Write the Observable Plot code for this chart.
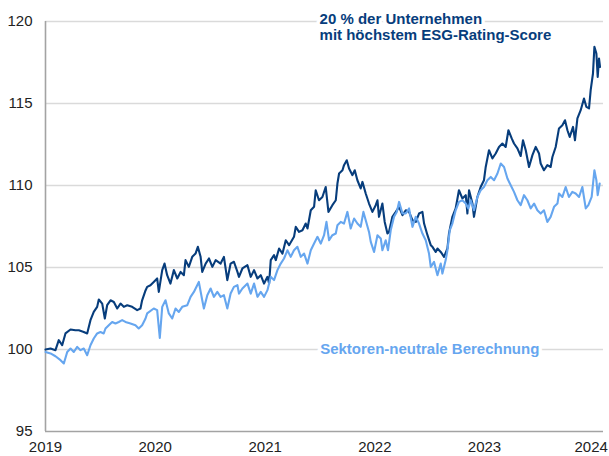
<!DOCTYPE html>
<html>
<head>
<meta charset="utf-8">
<script src="https://cdn.jsdelivr.net/npm/d3@7"></script>
<script src="https://cdn.jsdelivr.net/npm/@observablehq/plot@0.6"></script>
<style>
  html, body { margin: 0; padding: 0; background: #fff; }
  #chart svg { display: block; }
</style>
</head>
<body>
<div id="chart"></div>
<script>
// ---- Data (decimal years, index values) ----
const darkT = [2019.000,2019.046,2019.091,2019.121,2019.152,2019.182,2019.228,2019.273,2019.304,2019.349,2019.380,2019.410,2019.440,2019.471,2019.486,2019.517,2019.541,2019.562,2019.593,2019.623,2019.654,2019.684,2019.714,2019.745,2019.790,2019.836,2019.866,2019.881,2019.912,2019.927,2019.957,2019.987,2020.018,2020.033,2020.064,2020.085,2020.109,2020.139,2020.170,2020.201,2020.231,2020.261,2020.276,2020.306,2020.337,2020.367,2020.388,2020.413,2020.428,2020.459,2020.489,2020.520,2020.550,2020.595,2020.625,2020.656,2020.686,2020.716,2020.748,2020.762,2020.793,2020.839,2020.869,2020.899,2020.930,2020.960,2020.990,2021.021,2021.036,2021.051,2021.081,2021.097,2021.127,2021.158,2021.188,2021.218,2021.263,2021.279,2021.309,2021.340,2021.370,2021.386,2021.416,2021.446,2021.461,2021.491,2021.522,2021.552,2021.577,2021.613,2021.644,2021.659,2021.674,2021.705,2021.719,2021.744,2021.765,2021.796,2021.817,2021.841,2021.871,2021.887,2021.917,2021.947,2021.978,2022.008,2022.024,2022.038,2022.069,2022.090,2022.115,2022.129,2022.160,2022.191,2022.221,2022.252,2022.282,2022.312,2022.343,2022.373,2022.403,2022.434,2022.449,2022.480,2022.510,2022.525,2022.555,2022.571,2022.601,2022.631,2022.662,2022.676,2022.707,2022.737,2022.767,2022.798,2022.829,2022.844,2022.859,2022.890,2022.904,2022.935,2022.965,2022.995,2023.011,2023.041,2023.072,2023.102,2023.132,2023.163,2023.193,2023.218,2023.248,2023.269,2023.300,2023.330,2023.351,2023.376,2023.406,2023.437,2023.467,2023.497,2023.512,2023.542,2023.573,2023.603,2023.619,2023.649,2023.679,2023.710,2023.734,2023.756,2023.777,2023.807,2023.825,2023.847,2023.877,2023.907,2023.929,2023.953,2023.968,2023.989,2024.002,2024.020,2024.032,2024.044,2024.053];
const darkV = [100.00,100.06,99.96,100.57,100.26,100.98,101.22,101.17,101.17,101.07,100.98,101.79,102.29,102.60,103.05,102.80,101.89,102.70,103.00,102.90,102.50,102.80,102.60,102.70,102.60,102.40,102.50,103.00,103.60,103.82,103.92,104.12,104.33,103.51,104.84,105.24,104.53,104.02,104.84,104.33,104.73,104.53,105.45,105.04,105.65,105.85,106.26,105.65,104.73,105.24,105.55,105.04,105.45,105.24,105.65,104.23,105.24,105.35,104.73,104.43,104.94,105.14,104.43,104.84,104.33,104.53,104.02,104.43,104.02,105.45,105.75,105.45,106.16,105.85,106.66,106.36,106.87,107.48,107.17,107.27,107.68,107.38,108.49,108.70,109.71,109.10,109.30,109.91,108.39,108.80,109.10,110.12,110.73,110.93,111.24,111.54,111.04,110.63,110.93,110.32,109.82,110.22,109.51,108.90,108.39,108.80,109.10,108.09,108.90,107.78,107.07,107.17,108.09,108.39,108.70,108.19,108.49,108.39,107.88,107.78,108.29,108.39,107.68,106.97,106.36,106.26,105.95,106.16,105.95,105.65,106.16,107.07,108.09,108.60,109.71,109.21,109.41,108.29,109.71,108.90,108.09,109.30,109.91,110.32,111.13,112.15,111.65,111.95,112.35,112.56,112.35,113.37,112.87,112.56,112.26,111.80,112.76,112.15,111.13,111.85,112.35,111.95,111.34,110.93,111.24,111.13,111.74,112.35,113.48,113.68,113.98,113.37,112.96,113.57,112.76,114.09,114.59,115.30,114.79,114.70,115.81,116.83,118.45,118.05,116.62,117.74,117.23];

const lightT = [2019.000,2019.046,2019.091,2019.137,2019.167,2019.198,2019.228,2019.258,2019.289,2019.319,2019.349,2019.380,2019.410,2019.440,2019.471,2019.501,2019.531,2019.547,2019.577,2019.608,2019.638,2019.668,2019.699,2019.729,2019.775,2019.820,2019.850,2019.881,2019.912,2019.927,2019.987,2020.018,2020.042,2020.064,2020.094,2020.124,2020.155,2020.185,2020.215,2020.246,2020.292,2020.322,2020.352,2020.397,2020.428,2020.443,2020.474,2020.504,2020.534,2020.565,2020.595,2020.625,2020.656,2020.686,2020.716,2020.748,2020.762,2020.793,2020.839,2020.869,2020.899,2020.930,2020.960,2020.990,2021.021,2021.051,2021.081,2021.112,2021.142,2021.172,2021.203,2021.233,2021.263,2021.294,2021.325,2021.355,2021.386,2021.416,2021.446,2021.477,2021.507,2021.537,2021.559,2021.583,2021.613,2021.644,2021.659,2021.689,2021.719,2021.750,2021.780,2021.811,2021.841,2021.871,2021.896,2021.917,2021.947,2021.963,2021.993,2022.024,2022.054,2022.069,2022.099,2022.120,2022.145,2022.175,2022.200,2022.221,2022.252,2022.282,2022.312,2022.343,2022.373,2022.403,2022.434,2022.464,2022.494,2022.510,2022.540,2022.571,2022.601,2022.616,2022.646,2022.662,2022.683,2022.707,2022.737,2022.767,2022.798,2022.829,2022.853,2022.874,2022.904,2022.935,2022.965,2022.995,2023.026,2023.057,2023.087,2023.118,2023.148,2023.178,2023.209,2023.239,2023.269,2023.300,2023.330,2023.360,2023.391,2023.421,2023.452,2023.482,2023.512,2023.542,2023.573,2023.603,2023.634,2023.665,2023.679,2023.710,2023.740,2023.770,2023.801,2023.831,2023.862,2023.892,2023.923,2023.947,2023.977,2024.002,2024.020,2024.032,2024.050];
const lightV = [99.85,99.76,99.59,99.35,99.15,99.85,100.06,99.85,100.16,99.96,100.06,99.65,100.26,100.67,100.98,101.07,100.98,101.28,101.48,101.68,101.59,101.68,101.79,101.68,101.59,101.48,101.28,101.48,101.89,102.20,102.50,102.40,100.70,102.60,103.00,102.20,101.89,102.50,102.29,102.60,102.70,103.21,103.51,104.12,103.00,102.50,103.31,103.72,103.21,103.51,103.21,103.31,102.50,103.41,103.82,103.92,103.41,103.72,104.02,103.41,104.02,103.21,103.51,103.21,103.62,104.43,104.23,104.84,105.24,105.55,106.05,105.65,106.05,106.26,105.65,105.85,105.24,106.05,106.46,106.87,106.46,106.97,107.78,106.66,106.97,107.07,107.58,107.78,107.68,108.39,107.38,107.99,107.68,107.48,108.39,107.88,107.17,106.56,105.95,106.97,106.77,106.05,106.66,106.05,107.27,108.09,108.39,109.00,108.29,108.29,108.60,107.48,108.09,107.68,107.07,106.66,105.85,105.04,105.34,104.53,105.24,104.63,105.45,106.05,107.27,107.68,108.49,109.00,109.10,108.90,108.60,109.10,108.49,109.30,109.71,109.91,110.32,110.52,110.32,110.73,111.34,111.13,110.43,110.02,109.61,109.10,108.80,109.41,109.10,108.60,108.90,108.49,108.29,108.49,107.78,108.09,108.70,108.90,109.51,109.30,109.91,109.30,109.61,109.51,109.30,109.91,108.60,108.80,109.30,110.93,110.32,109.41,110.12];

const yTicks = [95, 100, 105, 110, 115, 120];
const gridValues = [100, 105, 110, 115, 120];
const yearTicks = [2019, 2020, 2021, 2022, 2023];
const lastYearTick = [2024];
const xDomain = ["2019-01-01", "2024-02-01"];
const yDomain = [95, 120];

const titleText = "20 % der Unternehmen\nmit höchstem ESG-Rating-Score";
const titleAt = {date: "2021-07-01", value: 120.57};
const labelText = "Sektoren-neutrale Berechnung";
const labelAt = {date: "2021-07-03", value: 100.04};

// ---- Build ----
function toDate(t) {
  const y = Math.floor(t);
  const s = Date.UTC(y, 0, 1), e = Date.UTC(y + 1, 0, 1);
  return new Date(s + (t - y) * (e - s));
}
const yearDate = y => new Date(Date.UTC(y, 0, 1));
const dark = darkT.map((t, i) => ({date: toDate(t), value: darkV[i]}));
const light = lightT.map((t, i) => ({date: toDate(t), value: lightV[i]}));
const darkColor = "#073d7c";
const lightColor = "#66a6ef";
const xd = xDomain.map(d => new Date(d));
const axisStyle = {tickSize: 0, tickPadding: 10, fontSize: 15, fill: "#222", tickFormat: d3.utcFormat("%Y")};

const chart = Plot.plot({
  width: 609,
  height: 456,
  marginLeft: 45,
  marginRight: 6,
  marginTop: 21,
  marginBottom: 25,
  style: {fontFamily: "'Liberation Sans', Arial, sans-serif", fontSize: "15px", color: "#222", background: "#fff"},
  x: {type: "utc", domain: xd, label: null},
  y: {domain: yDomain, label: null},
  marks: [
    Plot.ruleY(gridValues, {stroke: "#dadada", strokeWidth: 1.4}),
    Plot.ruleY([yDomain[0]], {stroke: "#a3a3a3", strokeWidth: 1.6}),
    Plot.ruleX([xd[0]], {y1: yDomain[0], y2: yDomain[1], stroke: "#a3a3a3", strokeWidth: 1.6}),
    Plot.axisY(yTicks, {tickSize: 0, tickPadding: 13, fontSize: 15, fill: "#222"}),
    Plot.axisX(yearTicks.map(yearDate), axisStyle),
    Plot.axisX(lastYearTick.map(yearDate), {...axisStyle, dx: -3}),
    Plot.line(dark, {x: "date", y: "value", stroke: darkColor, strokeWidth: 2.1}),
    Plot.line(light, {x: "date", y: "value", stroke: lightColor, strokeWidth: 2.1}),
    Plot.text([titleAt], {x: d => new Date(d.date), y: "value", text: () => titleText, textAnchor: "start", lineAnchor: "top", lineHeight: 1.1, fontSize: 15, fontWeight: "bold", fill: darkColor, stroke: "#fff", strokeWidth: 7}),
    Plot.text([labelAt], {x: d => new Date(d.date), y: "value", text: () => labelText, textAnchor: "start", lineAnchor: "middle", fontSize: 15, fontWeight: "bold", fill: lightColor, stroke: "#fff", strokeWidth: 7})
  ]
});
document.getElementById("chart").append(chart);
</script>
</body>
</html>
